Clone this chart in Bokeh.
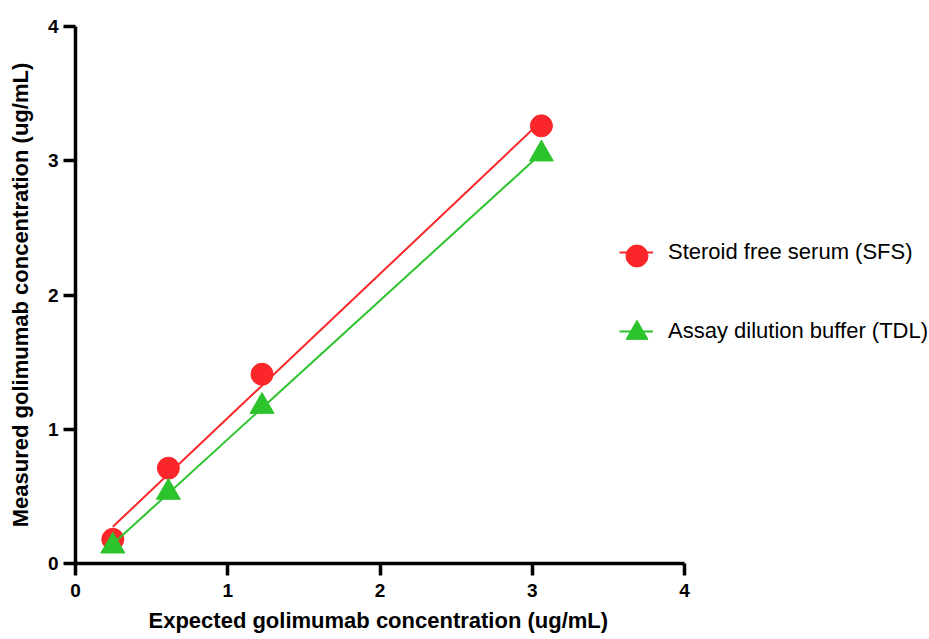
import numpy as np
from bokeh.plotting import figure
from bokeh.models import Range1d, Legend, LegendItem, FixedTicker, Title
from bokeh.embed import file_html
from bokeh.resources import INLINE

expected = [0.245, 0.61, 1.225, 3.06]
sfs_measured = [0.18, 0.71, 1.41, 3.26]
tdl_measured = [0.13, 0.53, 1.17, 3.05]
series_names = ["Steroid free serum (SFS)", "Assay dilution buffer (TDL)"]
ticks = [0, 1, 2, 3, 4]
x_label = "Expected golimumab concentration (ug/mL)"
y_label = "Measured golimumab concentration (ug/mL)"

RED = "#FA2629"
GREEN = "#2CC32C"
FONT = "Liberation Sans"

W, H = 929, 639
LEFT, TOP, BOTTOM = 75, 26, 639 - 563
AXIS_PX = 609  # pixel length of the 0..4 x axis
frame_w = W - LEFT
x_end = 4 * frame_w / AXIS_PX

p = figure(width=W, height=H, output_backend="svg", toolbar_location=None,
           x_range=Range1d(0, x_end), y_range=Range1d(0, 4),
           min_border_left=LEFT, min_border_top=TOP, min_border_right=0,
           min_border_bottom=BOTTOM)
p.grid.visible = False
p.outline_line_color = None
p.xaxis.bounds = (0, 4)

for ax in (p.xaxis[0], p.yaxis[0]):
    ax.ticker = FixedTicker(ticks=ticks)
    ax.axis_line_width = 3.5
    ax.major_tick_line_width = 3.5
    ax.major_tick_in = 0
    ax.major_tick_out = 12
    ax.minor_tick_line_color = None
    ax.major_label_text_font = FONT
    ax.major_label_text_font_style = "bold"
    ax.major_label_text_font_size = "19px"
    ax.major_label_text_color = "black"
    ax.axis_label_text_font = FONT
    ax.axis_label_text_font_style = "bold"
    ax.axis_label_text_font_size = "22px"
    ax.axis_label_text_color = "black"
    ax.axis_line_color = "black"
    ax.major_tick_line_color = "black"

p.yaxis.axis_label = y_label
p.xaxis.major_label_standoff = 8
p.yaxis.major_label_standoff = 5
p.yaxis.axis_label_standoff = 12

# x-axis title centred under the 0..4 axis span (the frame extends further right for the legend)
xt = Title(text=x_label, align="left", offset=73, standoff=13, vertical_align="bottom",
           text_font=FONT, text_font_style="bold", text_font_size="22px", text_color="black")
p.add_layout(xt, "below")

xs = np.array(expected)
line_items, marker_items = [], []
for name, ys, color, marker, size in [
    (series_names[0], sfs_measured, RED, "circle", 22),
    (series_names[1], tdl_measured, GREEN, "triangle", 24),
]:
    m, b = np.polyfit(xs, np.array(ys), 1)
    lx = [xs.min(), xs.max()]
    ly = [m * v + b for v in lx]
    ln = p.line(lx, ly, line_color=color, line_width=2)
    sc = p.scatter(x=expected, y=ys, marker=marker, size=size,
                   fill_color=color, line_color=color)
    line_items.append(LegendItem(label=name, renderers=[ln]))
    marker_items.append(LegendItem(label=" ", renderers=[sc]))

common = dict(orientation="vertical", padding=0, margin=0, border_line_color=None,
              background_fill_alpha=0, label_text_font=FONT, label_text_color="black")

legend_lines = Legend(items=line_items, location=(544, 219), glyph_width=34, glyph_height=24,
                      spacing=53, label_standoff=15, label_text_font_size="22px",
                      label_height=24, **common)
legend_marks = Legend(items=marker_items, location=(534, 203), glyph_width=55, glyph_height=55,
                      spacing=22, label_standoff=0, label_text_font_size="10px",
                      label_height=55, label_width=1, **common)
p.add_layout(legend_lines, "center")
p.add_layout(legend_marks, "center")

open("out.html", "w").write(file_html(p, INLINE))
